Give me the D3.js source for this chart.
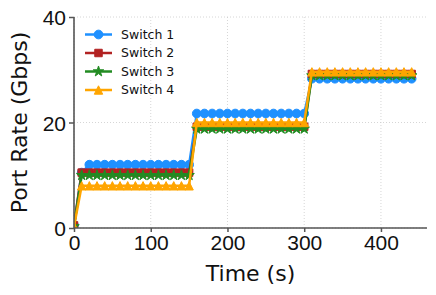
<!DOCTYPE html>
<html>

<head>
    <meta charset="utf-8">
    <style>
        body {
            margin: 0;
            background: white;
        }

        svg {
            font-family: 'DejaVu Sans', Arial, sans-serif;
        }

        .grid line {
            stroke: #cccccc;
            stroke-width: 0.8px;
            stroke-dasharray: 1, 2;
        }

        .axis .domain {
            display: none;
        }

        .axis .tick line {
            stroke: #555;
            stroke-width: 1.5px;
        }

        .axis .tick text {
            font-size: 21px;
            fill: #111;
        }
    </style>
</head>

<body>
    <svg width="436" height="295"></svg>
</body>

<script src="https://d3js.org/d3.v7.min.js"></script>

<script>
    // time in seconds, one sample every 10 s
    let times = [0, 10, 20, 30, 40, 50, 60, 70, 80, 90, 100, 110, 120, 130, 140, 150,
        160, 170, 180, 190, 200, 210, 220, 230, 240, 250, 260, 270, 280, 290, 300,
        310, 320, 330, 340, 350, 360, 370, 380, 390, 400, 410, 420, 430, 440]

    // port rate (Gbps)
    let switch1 = [0.5, 10.5, 12, 12, 12, 12, 12, 12, 12, 12, 12, 12, 12, 12, 12, 12,
        21.7, 21.7, 21.7, 21.7, 21.7, 21.7, 21.7, 21.7, 21.7, 21.7, 21.7, 21.7, 21.7, 21.7, 21.7,
        28.3, 28.3, 28.3, 28.3, 28.3, 28.3, 28.3, 28.3, 28.3, 28.3, 28.3, 28.3, 28.3, 28.3]

    let switch2 = [0.5, 10.5, 10.5, 10.5, 10.5, 10.5, 10.5, 10.5, 10.5, 10.5, 10.5, 10.5, 10.5, 10.5, 10.5, 10.5,
        19.2, 19.2, 19.2, 19.2, 19.2, 19.2, 19.2, 19.2, 19.2, 19.2, 19.2, 19.2, 19.2, 19.2, 19.2,
        29.2, 29.2, 29.2, 29.2, 29.2, 29.2, 29.2, 29.2, 29.2, 29.2, 29.2, 29.2, 29.2, 29.2]

    let switch3 = [0.3, 10, 10, 10, 10, 10, 10, 10, 10, 10, 10, 10, 10, 10, 10, 10,
        18.8, 18.8, 18.8, 18.8, 18.8, 18.8, 18.8, 18.8, 18.8, 18.8, 18.8, 18.8, 18.8, 18.8, 18.8,
        28.9, 28.9, 28.9, 28.9, 28.9, 28.9, 28.9, 28.9, 28.9, 28.9, 28.9, 28.9, 28.9, 28.9]

    let switch4 = [0.3, 8, 8, 8, 8, 8, 8, 8, 8, 8, 8, 8, 8, 8, 8, 8,
        20, 20, 20, 20, 20, 20, 20, 20, 20, 20, 20, 20, 20, 20, 20,
        29.6, 29.6, 29.6, 29.6, 29.6, 29.6, 29.6, 29.6, 29.6, 29.6, 29.6, 29.6, 29.6, 29.6]

    let seriesNames = ["Switch 1", "Switch 2", "Switch 3", "Switch 4"]
    let seriesColors = ["#1e90ff", "#b22222", "#228b22", "#ffa500"]
    let seriesMarkers = ["circle", "square", "star", "triangle"]

    let xTicks = [0, 100, 200, 300, 400]
    let yTicks = [0, 20, 40]

    let series = [switch1, switch2, switch3, switch4].map(function (values, i) {
        return {
            name: seriesNames[i],
            color: seriesColors[i],
            marker: seriesMarkers[i],
            points: values.map(function (v, j) { return { t: times[j], v: v } })
        }
    })

    let svg = d3.select("svg")

    let x = d3.scaleLinear()
        .domain([0, 460])
        .range([74, 427])

    let y = d3.scaleLinear()
        .domain([0, 40])
        .range([228, 17])

    // markers: matplotlib-ish triangle is as wide as it is tall
    function markerPath(type) {
        if (type == "circle") return d3.symbol(d3.symbolCircle, 60)()
        if (type == "square") return d3.symbol(d3.symbolSquare, 56)()
        if (type == "star") return d3.symbol(d3.symbolStar, 34)()
        let h = 4.2
        return "M0," + (-h) + "L" + h + "," + h + "L" + (-h) + "," + h + "Z"
    }

    svg.append("clipPath")
        .attr("id", "plot-clip")
        .append("rect")
        .attr("x", x(0))
        .attr("y", y(40))
        .attr("width", x(460) - x(0))
        .attr("height", y(0) - y(40))

    // dotted grid
    let grid = svg.append("g").attr("class", "grid")
    grid.selectAll(".gx")
        .data(xTicks)
        .join("line")
        .attr("x1", d => x(d))
        .attr("x2", d => x(d))
        .attr("y1", y(0))
        .attr("y2", y(40))
    grid.selectAll(".gy")
        .data(yTicks)
        .join("line")
        .attr("x1", x(0))
        .attr("x2", x(460))
        .attr("y1", d => y(d))
        .attr("y2", d => y(d))

    let line = d3.line()
        .x(d => x(d.t))
        .y(d => y(d.v))

    let plot = svg.append("g").attr("clip-path", "url(#plot-clip)")

    series.forEach(function (s) {
        let g = plot.append("g")
        g.append("path")
            .attr("d", line(s.points))
            .style("fill", "none")
            .style("stroke", s.color)
            .style("stroke-width", "2.5px")
        g.selectAll(".mark")
            .data(s.points)
            .join("path")
            .attr("transform", d => `translate(${x(d.t)},${y(d.v)})`)
            .attr("d", markerPath(s.marker))
            .style("fill", s.color)
            .style("stroke", s.color)
            .style("stroke-width", "1px")
    })

    // axes
    let xAxis = svg.append("g")
        .attr("class", "axis")
        .attr("transform", `translate(0,${y(0)})`)
        .call(d3.axisBottom(x).tickValues(xTicks).tickSize(4).tickPadding(3))

    let yAxis = svg.append("g")
        .attr("class", "axis")
        .attr("transform", `translate(${x(0)},0)`)
        .call(d3.axisLeft(y).tickValues(yTicks).tickSize(5).tickPadding(3))

    yAxis.selectAll(".tick text").attr("dy", "0.36em")

    // left and bottom spines only
    svg.append("line")
        .attr("x1", x(0)).attr("x2", x(0))
        .attr("y1", y(40)).attr("y2", y(0))
        .style("stroke", "#555").style("stroke-width", "1.6px")
    svg.append("line")
        .attr("x1", x(0)).attr("x2", x(460))
        .attr("y1", y(0)).attr("y2", y(0))
        .style("stroke", "#555").style("stroke-width", "1.6px")

    svg.append("text")
        .attr("x", (x(0) + x(460)) / 2)
        .attr("y", 281)
        .style("text-anchor", "middle")
        .style("font-size", "22px")
        .style("fill", "#111")
        .text("Time (s)")

    svg.append("text")
        .attr("transform", "translate(27," + ((y(0) + y(40)) / 2) + ") rotate(-90)")
        .style("text-anchor", "middle")
        .style("font-size", "22px")
        .style("fill", "#111")
        .text("Port Rate (Gbps)")

    // legend, no frame
    let legend = svg.append("g")
        .selectAll("g")
        .data(series)
        .join("g")
        .attr("transform", (d, i) => `translate(85,${34.5 + i * 18.5})`)

    legend.append("line")
        .attr("x1", 0).attr("x2", 27)
        .style("stroke", d => d.color)
        .style("stroke-width", "2.5px")

    legend.append("path")
        .attr("transform", "translate(13.5,0)")
        .attr("d", d => markerPath(d.marker))
        .style("fill", d => d.color)
        .style("stroke", d => d.color)
        .style("stroke-width", "1px")

    legend.append("text")
        .attr("x", 36)
        .attr("dy", "0.35em")
        .style("font-size", "12.5px")
        .style("fill", "#111")
        .text(d => d.name)
</script>

</html>
